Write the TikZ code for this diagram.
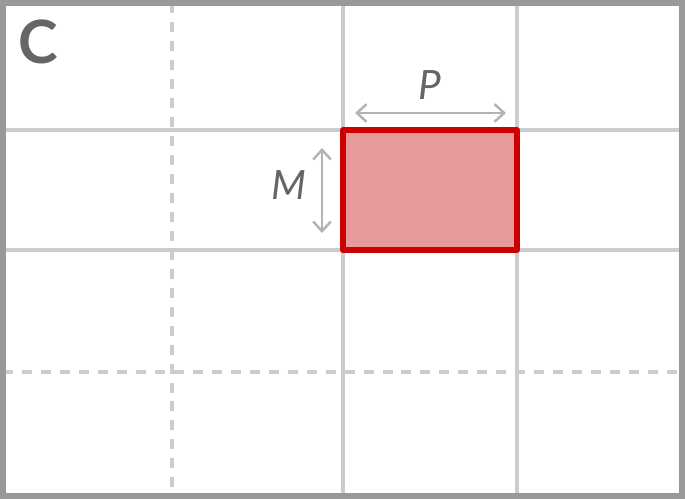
\documentclass[tikz,border=0pt]{standalone}
\usepackage{fontspec}
\setmainfont{Lato}
\usetikzlibrary{arrows.meta}
\definecolor{gridgray}{HTML}{CCCCCC}
\definecolor{framegray}{HTML}{999999}
\definecolor{arrowgray}{HTML}{B3B3B3}
\definecolor{textgray}{HTML}{666666}
\definecolor{blockred}{HTML}{CC0000}
\definecolor{blockfill}{HTML}{E8999A}

\begin{document}
\begin{tikzpicture}[x=0.02cm,y=-0.02cm,>={Straight Barb[length=5.5pt,width=10pt]},
  gridline/.style={gridgray,line width=2.7pt},
  gridhalf/.style={gridgray,line width=1.8pt,dash pattern=on 5.7pt off 5.1pt},
  dimarrow/.style={<->,arrowgray,line width=1.4pt},
  dimlabel/.style={textgray,font=\itshape\fontsize{23}{23}\selectfont}]
\useasboundingbox (0,0) rectangle (685,499);
% finer subdivision
\draw[gridhalf] (172,3) -- (172,496);
\draw[gridhalf] (3,372) -- (682,372);
% grid
\foreach \x in {343,517} \draw[gridline] (\x,3) -- (\x,496);
\foreach \y in {130,250} \draw[gridline] (3,\y) -- (682,\y);
% selected block
\draw[blockred,fill=blockfill,line width=3.2pt,line join=round] (343,130) rectangle (517,250);
% frame
\draw[framegray,line width=3.3pt] (3,3) rectangle (682,496);
\node[textgray,font=\bfseries\fontsize{34}{34}\selectfont] (panel) at (38,42) {C};
% block size
\coordinate (p1) at (355,113); \coordinate (p2) at (506,113);
\coordinate (m1) at (322,148); \coordinate (m2) at (322,233);
\draw[dimarrow] (p1) -- (p2);
\draw[dimarrow] (m1) -- (m2);
\node[dimlabel] (lblP) at (430,85) {P};
\node[dimlabel] (lblM) at (289,185) {M};
\end{tikzpicture}
\end{document}
